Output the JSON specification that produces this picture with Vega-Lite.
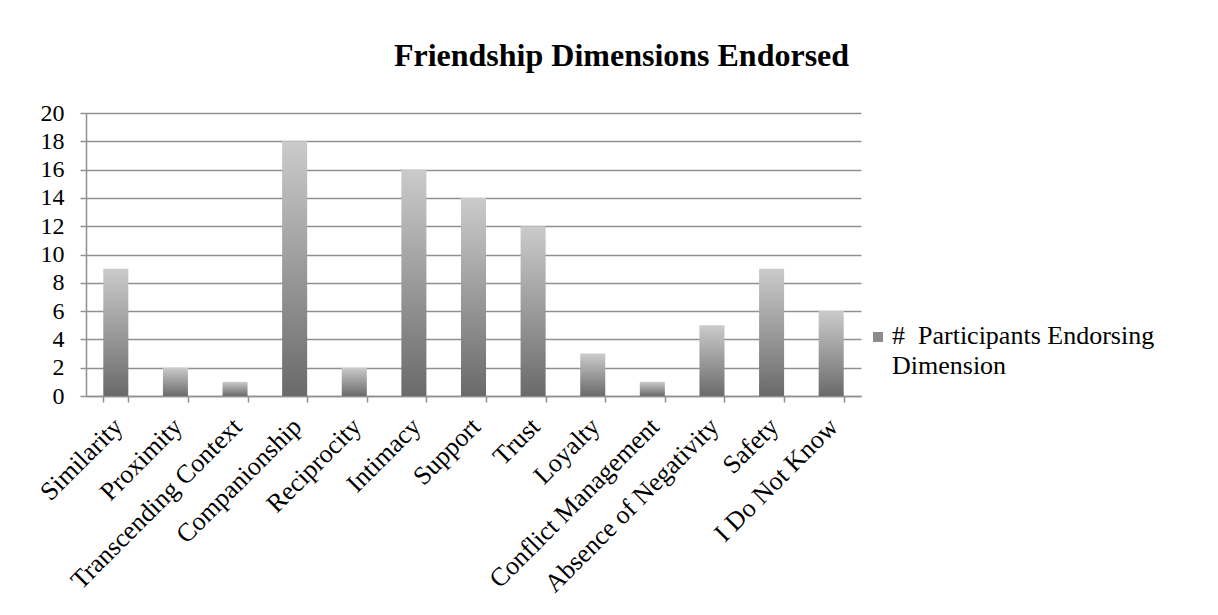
{
  "$schema": "https://vega.github.io/schema/vega-lite/v6.json",
  "width": 775,
  "height": 283,
  "autosize": {"type": "none"},
  "padding": {"left": 86, "top": 113, "right": 357, "bottom": 219},
  "background": "white",
  "config": {
    "font": "Liberation Serif",
    "view": {"stroke": null}
  },
  "title": {
    "text": "Friendship Dimensions Endorsed",
    "font": "Liberation Serif",
    "fontSize": 32,
    "fontWeight": "bold",
    "color": "black",
    "anchor": "middle",
    "dx": 148,
    "dy": 43,
    "offset": 46,
    "baseline": "alphabetic"
  },
  "data": {
    "values": [
      {"dimension": "Similarity", "count": 9, "series": "# Participants Endorsing Dimension"},
      {"dimension": "Proximity", "count": 2, "series": "# Participants Endorsing Dimension"},
      {"dimension": "Transcending Context", "count": 1, "series": "# Participants Endorsing Dimension"},
      {"dimension": "Companionship", "count": 18, "series": "# Participants Endorsing Dimension"},
      {"dimension": "Reciprocity", "count": 2, "series": "# Participants Endorsing Dimension"},
      {"dimension": "Intimacy", "count": 16, "series": "# Participants Endorsing Dimension"},
      {"dimension": "Support", "count": 14, "series": "# Participants Endorsing Dimension"},
      {"dimension": "Trust", "count": 12, "series": "# Participants Endorsing Dimension"},
      {"dimension": "Loyalty", "count": 3, "series": "# Participants Endorsing Dimension"},
      {"dimension": "Conflict Management", "count": 1, "series": "# Participants Endorsing Dimension"},
      {"dimension": "Absence of Negativity", "count": 5, "series": "# Participants Endorsing Dimension"},
      {"dimension": "Safety", "count": 9, "series": "# Participants Endorsing Dimension"},
      {"dimension": "I Do Not Know", "count": 6, "series": "# Participants Endorsing Dimension"}
    ]
  },
  "encoding": {
    "x": {
      "field": "dimension",
      "type": "nominal",
      "sort": null,
      "scale": {"paddingInner": 0.58, "paddingOuter": 0.29},
      "axis": {
        "title": null,
        "labelAngle": -45,
        "labelFontSize": 26,
        "labelColor": "black",
        "labelLimit": 400,
        "labelPadding": 11,
        "labelOffset": -7,
        "tickBand": "extent",
        "tickSize": 6,
        "tickColor": "#909090",
        "tickWidth": 1.5,
        "domainColor": "#909090",
        "domainWidth": 1.5
      }
    },
    "y": {
      "field": "count",
      "type": "quantitative",
      "scale": {"domain": [0, 20], "nice": false},
      "axis": {
        "title": null,
        "values": [0, 2, 4, 6, 8, 10, 12, 14, 16, 18, 20],
        "labelFontSize": 24,
        "labelColor": "black",
        "labelPadding": 16,
        "grid": true,
        "gridColor": "#909090",
        "gridWidth": 1.5,
        "tickSize": 6,
        "tickColor": "#909090",
        "tickWidth": 1.5,
        "domainColor": "#909090",
        "domainWidth": 1.5
      }
    }
  },
  "layer": [
    {
      "mark": {"type": "bar", "opacity": 0},
      "encoding": {
        "color": {
          "field": "series",
          "type": "nominal",
          "scale": {"range": ["#8c8c8c"]},
          "legend": {
            "orient": "none",
            "legendX": 779,
            "legendY": 211,
            "title": null,
            "padding": 0,
            "symbolType": "square",
            "symbolSize": 100,
            "symbolOpacity": 1,
            "symbolStrokeWidth": 0,
            "labelFontSize": 26,
            "labelColor": "black",
            "labelLimit": 400,
            "labelOffset": 1,
            "labelBaseline": "alphabetic",
            "labelExpr": "['#\u00a0\u00a0Participants Endorsing', 'Dimension']",
            "encode": {"labels": {"update": {"lineHeight": {"value": 30}, "dy": {"value": 7}}}}
          }
        }
      }
    },
    {
      "mark": {
        "type": "bar",
        "color": {
          "gradient": "linear",
          "x1": 0, "y1": 1, "x2": 0, "y2": 0,
          "stops": [
            {"offset": 0, "color": "#6a6a6a"},
            {"offset": 1, "color": "#cbcbcb"}
          ]
        }
      }
    }
  ]
}
